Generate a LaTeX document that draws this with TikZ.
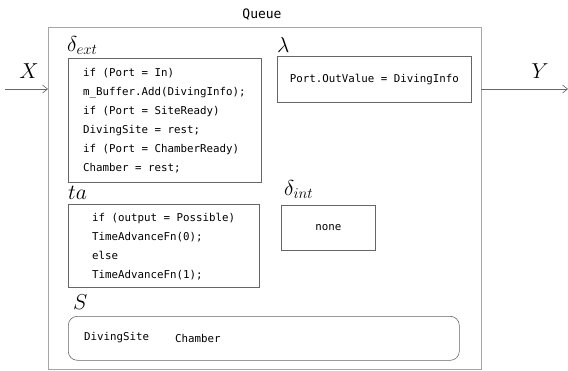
\documentclass[tikz,border=0pt]{standalone}
\usepackage{fontspec}
\usepackage{graphicx}
\setmonofont{DejaVu Sans Mono}
\usetikzlibrary{arrows.meta}
\newcommand\mlab[1]{\scalebox{1.25}{$#1$}}
\tikzset{
  outerbox/.style={draw=black!35, line width=0.8pt, rectangle, inner sep=0pt, anchor=north west},
  fnbox/.style={draw=black!60, line width=0.6pt, rectangle, inner sep=0pt, anchor=north west},
  code/.style={font=\ttfamily\fontsize{10.8}{19}\selectfont, inner sep=0pt, align=left},
  mlabel/.style={font=\LARGE, inner sep=0pt, anchor=base west},
  port/.style={draw=black!60, line width=0.6pt, -{Straight Barb[length=5pt,width=8pt]}},
}
\begin{document}
\begin{tikzpicture}[x=1pt,y=-1pt]
\useasboundingbox (0,0) rectangle (568,370);
% outer box
\node[outerbox, minimum width=433pt, minimum height=342pt] (queue) at (48,27) {};
\node[font=\ttfamily\fontsize{13}{15}\selectfont, inner sep=0pt, anchor=base] (qlabel) at (262,18) {Queue};
% ports
\coordinate (xin) at (5,89);
\coordinate (yout) at (568,89);
\coordinate (qin) at (48,89);
\coordinate (qout) at (481,89);
\draw[port] (xin) -- (qin);
\draw[port] (qout) -- (yout);
\node[mlabel, anchor=base] (xlab) at (29,78) {\mlab{X}};
\node[mlabel, anchor=base] (ylab) at (540,78) {\mlab{Y}};
% delta ext
\node[mlabel] (dextlab) at (67,51) {\mlab{\delta_{ext}}};
\node[fnbox, minimum width=193pt, minimum height=124pt] (dext) at (68,58) {};
\node[code, anchor=north west] (dextcode) at (83,68) {if (Port = In)\\m\_Buffer.Add(DivingInfo);\\if (Port = SiteReady)\\DivingSite = rest;\\if (Port = ChamberReady)\\Chamber = rest;};
% lambda
\node[mlabel] (lamlab) at (277,52) {\mlab{\lambda}};
\node[fnbox, minimum width=194pt, minimum height=46pt] (lam) at (277,56) {};
\node[code] (lamcode) at (lam.center) {Port.OutValue = DivingInfo};
% ta
\node[mlabel] (talab) at (68,199) {\mlab{ta}};
\node[fnbox, minimum width=191pt, minimum height=83pt] (ta) at (68,204) {};
\node[code, anchor=north west] (tacode) at (92,213) {if (output = Possible)\\TimeAdvanceFn(0);\\else\\TimeAdvanceFn(1);};
% delta int
\node[mlabel] (dintlab) at (284,195) {\mlab{\delta_{int}}};
\node[fnbox, minimum width=94pt, minimum height=45pt] (dint) at (281,205) {};
\node[code] (dintcode) at (dint.center) {none};
% S
\node[mlabel] (slab) at (73,309) {\mlab{S}};
\node[fnbox, rounded corners=9pt, minimum width=391pt, minimum height=44pt] (s) at (68,316) {};
\node[code, anchor=west] (s1) at (84,338) {DivingSite};
\node[code, anchor=west] (s2) at (175,338) {Chamber};
\end{tikzpicture}
\end{document}
